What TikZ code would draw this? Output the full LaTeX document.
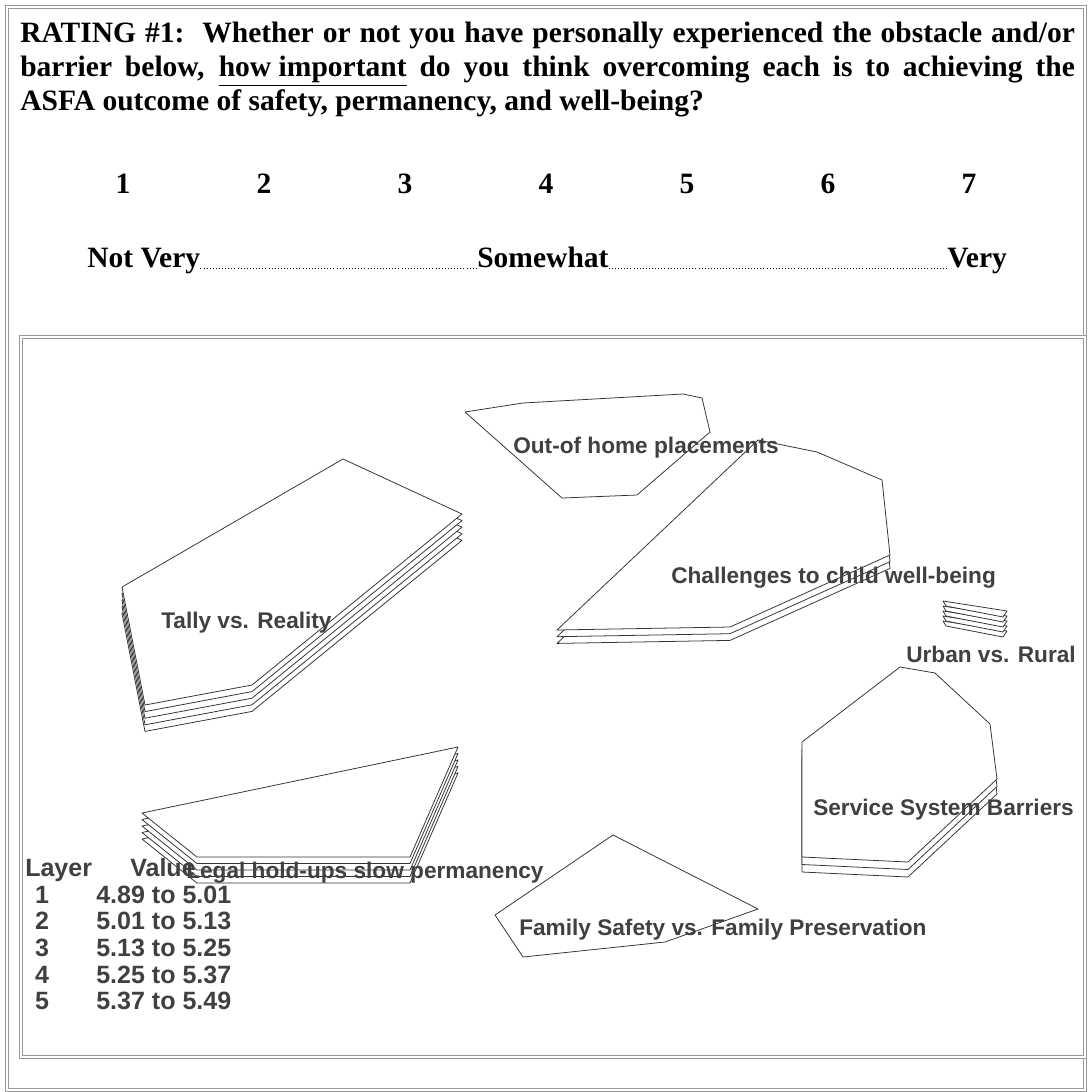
\documentclass[tikz,border=0pt]{standalone}
\usepackage{fontspec}
\setmainfont{Liberation Serif}
\newfontfamily\mapfont{Liberation Sans}

\begin{document}
\begin{tikzpicture}[
    x=0.025cm, y=-0.025cm,
    frame/.style={draw=black!40, double, double distance=1.2pt, line width=0.5pt},
    header/.style={anchor=north west, inner sep=0pt, align=left, font=\fontsize{21}{24.2}\selectfont\bfseries},
    scalelbl/.style={anchor=base, inner sep=0pt, font=\fontsize{21}{24}\selectfont\bfseries},
    scaledots/.style={dash pattern=on 0.6pt off 1.6pt, line width=0.6pt},
    layer/.style={draw=black!80, fill=white, line width=0.55pt, line join=round},
    cluster/.style={anchor=base west, inner sep=0pt, text=black!75, font=\mapfont\fontsize{16.1}{19}\selectfont\bfseries},
    legend/.style={anchor=base, inner sep=0pt, text=black!75, font=\mapfont\fontsize{17.8}{21}\selectfont\bfseries}
  ]

    \useasboundingbox (0,0) rectangle (1088,1092);
    \fill[white] (0,0) rectangle (1088,1092);

    \draw[frame] (7,7) rectangle (1085,1090);
    \draw[frame] (21,337) rectangle (1085,1057);

    \node[header] (question) at (20,22) {
      \makebox[750pt][s]{RATING \#1:\ \ Whether or not you have personally experienced the obstacle and/or}\\
      \makebox[750pt][s]{barrier below, \underline{how important} do you think overcoming each is to achieving the}\\
      ASFA outcome of safety, permanency, and well-being?
    };

    \foreach \n in {1,...,7}
      \node[scalelbl] (num\n) at ({123+(\n-1)*141},193) {\n};

    \node[scalelbl, anchor=base west] (notvery) at (87,267) {Not Very};
    \node[scalelbl, anchor=base west] (somewhat) at (477,267) {Somewhat};
    \node[scalelbl, anchor=base west] (very) at (947,267) {Very};
    \draw[scaledots] ([yshift=-1pt]notvery.base east) -- ([yshift=-1pt]somewhat.base west);
    \draw[scaledots] ([yshift=-1pt]somewhat.base east) -- ([yshift=-1pt]very.base west);

    % cluster layers, lowest first
    \foreach \k in {4,3,2,1,0}
      \draw[layer, shift={(0,\k*6.6)}] (122,587) -- (343,459) -- (462,514) -- (252,685) -- (145,705) -- cycle;
    \foreach \k in {4,3,2,1,0}
      \draw[layer, shift={(0,\k*6.5)}] (142,813) -- (458,747) -- (410,857) -- (197,857) -- cycle;
    \foreach \k in {2,1,0}
      \draw[layer, shift={(0,\k*6.7)}] (758,440) -- (817,452) -- (882,480) -- (890,555) -- (730,627) -- (557,630) -- cycle;
    \foreach \k in {2,1,0}
      \draw[layer, shift={(0,\k*7.5)}] (802,742) -- (900,667) -- (935,673) -- (990,724) -- (997,779) -- (908,862) -- (802,857) -- cycle;
    \foreach \k in {4,3,2,1,0}
      \draw[layer, shift={(0,\k*5)}] (943,601) -- (1007,611) -- (1003,617) -- (946,606) -- cycle;
    \draw[layer] (465,412) -- (523,403) -- (683,394) -- (702,398) -- (710,432) -- (637,495) -- (562,498) -- cycle;
    \draw[layer] (613,835) -- (758,909) -- (665,942) -- (523,957) -- (495,915) -- cycle;

    % legend
    \node[legend, anchor=base west] (layerhd) at (25,876) {Layer};
    \node[legend, anchor=base west] (valuehd) at (130,876) {Value};
    \foreach \n/\v in {1/4.89 to 5.01,2/5.01 to 5.13,3/5.13 to 5.25,4/5.25 to 5.37,5/5.37 to 5.49} {
      \node[legend] (layer\n) at (42,{903+(\n-1)*26.7}) {\n};
      \node[legend, anchor=base west] (range\n) at (96,{903+(\n-1)*26.7}) {\v};
    }

    \node[cluster] (outofhome) at (513,453) {Out-of home placements};
    \node[cluster] (challenges) at (671,583) {Challenges to child well-being};
    \node[cluster] (tally) at (161,628) {Tally vs. Reality};
    \node[cluster] (urban) at (906,662) {Urban vs. Rural};
    \node[cluster] (service) at (813,815) {Service System Barriers};
    \node[cluster] (legal) at (186,878) {Legal hold-ups slow permanency};
    \node[cluster] (family) at (519,935) {Family Safety vs. Family Preservation};
  \end{tikzpicture}
\end{document}
